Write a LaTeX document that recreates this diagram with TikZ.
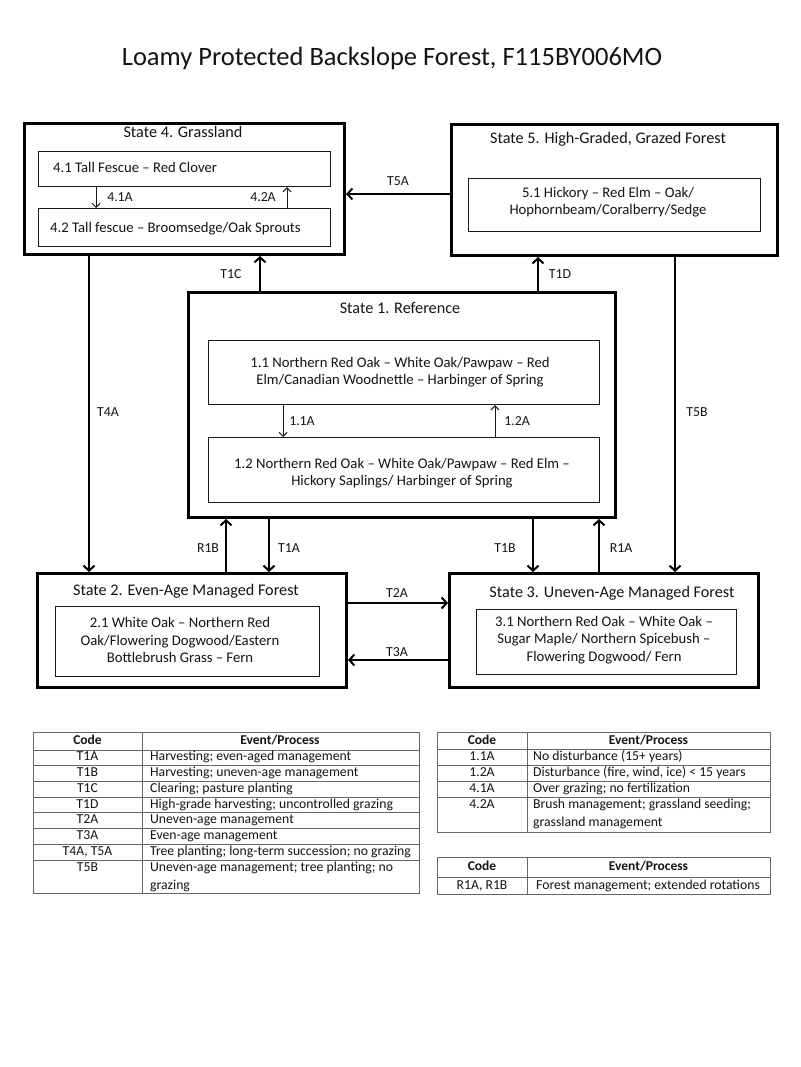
\documentclass[tikz,border=0pt]{standalone}
\usepackage{fontspec}
\setmainfont{Carlito}
\usetikzlibrary{arrows.meta}
\begin{document}
\begin{tikzpicture}[x=1pt,y=-1pt,
 statebox/.style={draw=black, line width=3pt, rectangle, anchor=north west, inner sep=0},
 subbox/.style={draw=black!90, line width=1.2pt, rectangle, anchor=north west, inner sep=0},
 maintitle/.style={font=\fontsize{26.5}{30}\selectfont, inner sep=0, text=black!92},
 ttl/.style={font=\fontsize{16.2}{19}\selectfont, inner sep=0, text=black!92, text height=12pt, text depth=2pt},
 body/.style={font=\fontsize{14.7}{17.6}\selectfont, inner sep=0, align=center, text=black!92},
 lbl/.style={font=\fontsize{13.8}{16}\selectfont, inner sep=0, text=black!92, text height=10pt, text depth=1.5pt},
 arr/.style={draw=black, line width=2pt, -{Straight Barb[length=5pt,width=11pt]}},
 sarr/.style={draw=black!90, line width=1pt, -{Straight Barb[length=4pt,width=8pt]}},
 tline/.style={draw=black!60, line width=1pt},
 tcell/.style={font=\fontsize{13.7}{15.7}\selectfont, inner sep=0, text=black!92, text height=9pt, text depth=3pt},
 thead/.style={font=\bfseries\fontsize{13.5}{15.7}\selectfont, inner sep=0, text=black!92, text height=9pt, text depth=3pt},
]
\fill[white] (0,0) rectangle (800,1067);
\useasboundingbox (0,0) rectangle (800,1067);

% title
\node[maintitle] (title) at (392,58) {Loamy Protected Backslope Forest, F115BY006MO};

% state boxes
\node[statebox, minimum width=320pt, minimum height=131pt] (s4) at (23,122) {};
\node[statebox, minimum width=326pt, minimum height=131pt] (s5) at (450,123) {};
\node[statebox, minimum width=427pt, minimum height=225pt] (s1) at (187,291) {};
\node[statebox, minimum width=309pt, minimum height=114pt] (s2) at (36,572) {};
\node[statebox, minimum width=309pt, minimum height=114pt] (s3) at (448,572) {};

% state titles
\node[ttl] (t4) at (183,133) {State 4. Grassland};
\node[ttl] (t5) at (608,139) {State 5. High-Graded, Grazed Forest};
\node[ttl] (t1) at (400,308) {State 1. Reference};
\node[ttl] (t2) at (186,590) {State 2. Even-Age Managed Forest};
\node[ttl] (t3) at (612,592) {State 3. Uneven-Age Managed Forest};

% community boxes
\node[subbox, minimum width=292pt, minimum height=35pt] (b41) at (38,151) {};
\node[subbox, minimum width=292pt, minimum height=38pt] (b42) at (38,208) {};
\node[subbox, minimum width=292pt, minimum height=53pt] (b51) at (468,178) {};
\node[subbox, minimum width=391pt, minimum height=64pt] (b11) at (208,340) {};
\node[subbox, minimum width=391pt, minimum height=65pt] (b12) at (208,437) {};
\node[subbox, minimum width=264pt, minimum height=70pt] (b21) at (55,606) {};
\node[subbox, minimum width=260pt, minimum height=65pt] (b31) at (476,609) {};

% community texts
\node[body, anchor=west] (x41) at (53,167) {4.1 Tall Fescue – Red Clover};
\node[body, anchor=west] (x42) at (50,229) {4.2 Tall fescue – Broomsedge/Oak Sprouts};
\node[body] (x51) at (608,202) {5.1 Hickory – Red Elm – Oak/\\Hophornbeam/Coralberry/Sedge};
\node[body] (x11) at (400,372) {1.1 Northern Red Oak – White Oak/Pawpaw – Red\\Elm/Canadian Woodnettle – Harbinger of Spring};
\node[body] (x12) at (402,473) {1.2 Northern Red Oak – White Oak/Pawpaw – Red Elm –\\Hickory Saplings/ Harbinger of Spring};
\node[body] (x21) at (180,640) {2.1 White Oak – Northern Red\\Oak/Flowering Dogwood/Eastern\\Bottlebrush Grass – Fern};
\node[body] (x31) at (604,640) {3.1 Northern Red Oak – White Oak –\\Sugar Maple/ Northern Spicebush –\\Flowering Dogwood/ Fern};

% x / y guides for connectors
\coordinate (c41A) at (96,0);
\coordinate (c42A) at (287,0);
\coordinate (c11A) at (283,0);
\coordinate (c12A) at (495,0);
\coordinate (cT1C) at (260,0);
\coordinate (cT1D) at (538,0);
\coordinate (cT4A) at (89,0);
\coordinate (cT5B) at (675,0);
\coordinate (cR1B) at (226,0);
\coordinate (cT1A) at (269,0);
\coordinate (cT1B) at (533,0);
\coordinate (cR1A) at (599,0);
\coordinate (cT5A) at (0,194);
\coordinate (cT2A) at (0,603);
\coordinate (cT3A) at (0,660);

% within-state arrows
\draw[sarr] (b41.south -| c41A) -- (b42.north -| c41A);
\draw[sarr] (b42.north -| c42A) -- (b41.south -| c42A);
\draw[sarr] (b11.south -| c11A) -- (b12.north -| c11A);
\draw[sarr] (b12.north -| c12A) -- (b11.south -| c12A);

% transitions
\draw[arr] (s5.west |- cT5A) -- (s4.east |- cT5A);
\draw[arr] (s1.north -| cT1C) -- (s4.south -| cT1C);
\draw[arr] (s1.north -| cT1D) -- (s5.south -| cT1D);
\draw[arr] (s4.south -| cT4A) -- (s2.north -| cT4A);
\draw[arr] (s5.south -| cT5B) -- (s3.north -| cT5B);
\draw[arr] (s2.north -| cR1B) -- (s1.south -| cR1B);
\draw[arr] (s1.south -| cT1A) -- (s2.north -| cT1A);
\draw[arr] (s1.south -| cT1B) -- (s3.north -| cT1B);
\draw[arr] (s3.north -| cR1A) -- (s1.south -| cR1A);
\draw[arr] (s2.east |- cT2A) -- (s3.west |- cT2A);
\draw[arr] (s3.west |- cT3A) -- (s2.east |- cT3A);

% labels
\node[lbl] (l41A) at (120,197) {4.1A};
\node[lbl] (l42A) at (263,197) {4.2A};
\node[lbl] (l11A) at (302,421) {1.1A};
\node[lbl] (l12A) at (517,421) {1.2A};
\node[lbl] (lT5A) at (398,181) {T5A};
\node[lbl] (lT1C) at (231,274) {T1C};
\node[lbl] (lT1D) at (560,274) {T1D};
\node[lbl] (lT4A) at (108,412) {T4A};
\node[lbl] (lT5B) at (697,412) {T5B};
\node[lbl] (lR1B) at (208,548) {R1B};
\node[lbl] (lT1A) at (289,548) {T1A};
\node[lbl] (lT1B) at (505,548) {T1B};
\node[lbl] (lR1A) at (621,548) {R1A};
\node[lbl] (lT2A) at (397,593) {T2A};
\node[lbl] (lT3A) at (397,652) {T3A};

% ---- table 1 (left)
\draw[tline] (33,732) rectangle (419,893);
\draw[tline] (142,732) -- (142,893);
\foreach \yy in {750,765.7,781.4,797.1,812.8,828.5,844.2,860}
  \draw[tline] (33,\yy) -- (419,\yy);
\node[thead] (h1a) at (87.5,741) {Code};
\node[thead] (h1b) at (280,741) {Event/Process};
\node[tcell] (k1) at (87.5,757.9) {T1A};
\node[tcell] (k2) at (87.5,773.6) {T1B};
\node[tcell] (k3) at (87.5,789.3) {T1C};
\node[tcell] (k4) at (87.5,805) {T1D};
\node[tcell] (k5) at (87.5,820.7) {T2A};
\node[tcell] (k6) at (87.5,836.4) {T3A};
\node[tcell] (k7) at (87.5,852.1) {T4A, T5A};
\node[tcell] (k8) at (87.5,868) {T5B};
\node[tcell, anchor=west] (e1) at (150,757.9) {Harvesting; even-aged management};
\node[tcell, anchor=west] (e2) at (150,773.6) {Harvesting; uneven-age management};
\node[tcell, anchor=west] (e3) at (150,789.3) {Clearing; pasture planting};
\node[tcell, anchor=west] (e4) at (150,805) {High-grade harvesting; uncontrolled grazing};
\node[tcell, anchor=west] (e5) at (150,820.7) {Uneven-age management};
\node[tcell, anchor=west] (e6) at (150,836.4) {Even-age management};
\node[tcell, anchor=west] (e7) at (150,852.1) {Tree planting; long-term succession; no grazing};
\node[tcell, anchor=west] (e8) at (150,868) {Uneven-age management; tree planting; no};
\node[tcell, anchor=west] (e8b) at (150,886) {grazing};

% ---- table 2 (right top)
\draw[tline] (437,732) rectangle (770,832);
\draw[tline] (527,732) -- (527,832);
\foreach \yy in {749.5,765.5,781.3,797}
  \draw[tline] (437,\yy) -- (770,\yy);
\node[thead] (h2a) at (482,741) {Code};
\node[thead] (h2b) at (648.5,741) {Event/Process};
\node[tcell] (m1) at (482,757.5) {1.1A};
\node[tcell] (m2) at (482,773.4) {1.2A};
\node[tcell] (m3) at (482,789.2) {4.1A};
\node[tcell] (m4) at (482,805) {4.2A};
\node[tcell, anchor=west] (f1) at (533,757.5) {No disturbance (15+ years)};
\node[tcell, anchor=west] (f2) at (533,773.4) {Disturbance (fire, wind, ice) < 15 years};
\node[tcell, anchor=west] (f3) at (533,789.2) {Over grazing; no fertilization};
\node[tcell, anchor=west] (f4) at (533,805) {Brush management; grassland seeding;};
\node[tcell, anchor=west] (f4b) at (533,823) {grassland management};

% ---- table 3 (right bottom)
\draw[tline] (437,857) rectangle (770,894);
\draw[tline] (527,857) -- (527,894);
\draw[tline] (437,877) -- (770,877);
\node[thead] (h3a) at (482,867) {Code};
\node[thead] (h3b) at (648.5,867) {Event/Process};
\node[tcell] (r1) at (482,886) {R1A, R1B};
\node[tcell, anchor=west] (g1) at (536,886) {Forest management; extended rotations};
\end{tikzpicture}
\end{document}
